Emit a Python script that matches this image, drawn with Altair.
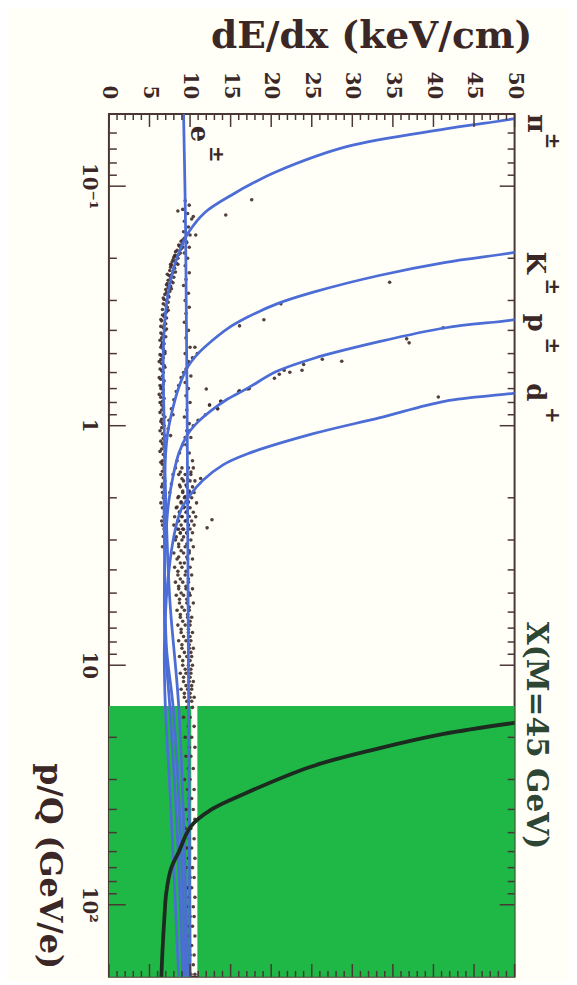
import altair as alt
import pandas as pd

W, H = 410, 872
FRAME = "#4a3632"
TXT = "#3b2826"
BLUE = "#4d6dd6"
GREEN = "#1fb847"
FONT = "DejaVu Serif"

# ---- curves (p/Q in GeV/e, dE/dx in keV/cm) ----
pi_p = [0.051, 0.0525, 0.0577, 0.0684, 0.0868, 0.0973, 0.107, 0.129, 0.157, 0.184, 0.223, 0.277, 0.345, 0.477, 0.652, 0.953, 2.0, 5.3, 14.8, 57, 200]
pi_dedx = [51.0, 49.6, 41.5, 29.3, 20.7, 17.7, 15.5, 11.8, 9.76, 8.78, 7.93, 7.32, 6.95, 6.71, 6.71, 6.8, 7.0, 7.5, 8.6, 9.3, 9.7]
k_p = [0.18, 0.189, 0.208, 0.236, 0.277, 0.310, 0.352, 0.393, 0.446, 0.500, 0.565, 0.684, 0.867, 1.10, 1.69, 3.28, 8.5, 14.8, 57, 200]
k_dedx = [53.0, 50.0, 41.5, 33.3, 25.2, 20.7, 17.1, 14.63, 12.56, 10.98, 9.76, 8.66, 7.80, 7.20, 6.83, 6.85, 7.1, 7.9, 8.9, 9.4]
pr_p = [0.345, 0.361, 0.390, 0.446, 0.524, 0.593, 0.697, 0.774, 0.867, 0.964, 1.08, 1.29, 1.61, 2.14, 3.28, 5.28, 8.5, 14.8, 57, 200]
pr_dedx = [53.0, 50.0, 41.5, 33.3, 25.2, 20.7, 17.1, 14.63, 12.56, 10.98, 9.76, 8.66, 7.93, 7.32, 6.95, 6.83, 6.95, 7.5, 8.5, 9.1]
d_p = [0.70, 0.731, 0.789, 0.927, 1.08, 1.31, 1.46, 1.69, 1.95, 2.24, 2.72, 3.61, 5.28, 8.5, 14.8, 35.4, 200]
d_dedx = [53.0, 50.0, 41.5, 33.3, 25.2, 17.1, 14.02, 11.59, 10.0, 8.90, 8.17, 7.56, 7.07, 6.83, 6.95, 7.56, 8.6]
e_p = [0.05, 0.15, 1.0, 10.0, 200]
e_dedx = [9.2, 9.45, 9.65, 9.8, 10.0]
x_p = [16.9, 17.4, 19.4, 22.4, 26.6, 34.4, 40.1, 47.1, 60.9, 70.2, 89.1, 114, 158, 202]
x_dedx = [53.0, 50.0, 41.1, 32.9, 24.8, 16.7, 12.6, 10.1, 8.54, 7.68, 7.07, 6.83, 6.59, 6.46]

# ---- measured tracks (p, dE/dx) ----
pion_band = [[0.165, 9.3], [0.17, 8.9], [0.172, 9.6], [0.175, 9.0], [0.178, 8.7], [0.18, 9.1], [0.185, 8.4], [0.19, 8.8],
             [0.195, 8.1], [0.2, 8.5], [0.203, 7.9], [0.205, 8.2], [0.21, 8.3], [0.214, 7.7], [0.22, 8.1], [0.225, 7.5],
             [0.23, 7.9], [0.235, 7.7], [0.236, 7.4], [0.24, 8.0], [0.247, 7.3], [0.25, 7.7], [0.258, 7.1], [0.262, 7.6],
             [0.265, 7.3], [0.27, 7.0], [0.275, 7.5], [0.283, 6.9], [0.29, 7.4], [0.297, 6.8], [0.3, 7.1], [0.305, 7.3],
             [0.31, 6.7], [0.32, 7.2], [0.327, 6.6], [0.335, 7.1], [0.34, 6.9], [0.345, 6.6], [0.355, 7.1], [0.365, 6.5],
             [0.375, 7.0], [0.385, 6.4], [0.39, 6.7], [0.4, 6.9], [0.41, 6.4], [0.425, 7.0], [0.44, 6.3], [0.45, 6.6],
             [0.455, 6.8], [0.47, 6.4], [0.49, 6.9], [0.505, 6.3], [0.51, 6.5], [0.52, 6.7], [0.54, 6.2], [0.56, 6.8],
             [0.58, 6.3], [0.59, 6.5], [0.6, 6.7], [0.63, 6.2], [0.65, 6.8], [0.68, 6.3], [0.69, 6.5], [0.71, 6.7],
             [0.74, 6.2], [0.77, 6.8], [0.8, 6.3], [0.82, 6.5], [0.84, 6.7], [0.88, 6.3], [0.92, 6.9], [0.96, 6.4],
             [0.98, 6.6], [1.0, 6.8], [1.05, 6.3], [1.1, 6.9], [1.16, 6.4], [1.19, 6.6], [1.22, 6.8], [1.28, 6.3],
             [1.35, 6.9], [1.42, 6.4], [1.45, 6.6], [1.5, 6.8], [1.6, 6.4], [1.7, 6.9], [1.8, 6.5], [1.95, 6.8],
             [2.1, 6.4], [2.3, 6.9], [2.5, 6.5], [2.7, 6.8]]
pion_band2 = [[0.168, 9.1], [0.176, 8.6], [0.183, 8.9], [0.188, 8.2], [0.193, 8.6], [0.198, 8.0], [0.207, 7.8],
              [0.212, 8.5], [0.218, 7.6], [0.228, 8.2], [0.233, 7.2], [0.243, 7.6], [0.253, 7.9], [0.255, 7.2],
              [0.268, 7.7], [0.278, 7.1], [0.287, 7.3], [0.293, 6.7], [0.315, 7.0], [0.33, 7.3], [0.35, 6.8],
              [0.36, 6.4], [0.38, 6.8], [0.395, 7.1], [0.415, 6.6], [0.43, 6.5], [0.46, 6.5], [0.48, 6.7],
              [0.5, 6.9], [0.53, 6.4], [0.55, 6.5], [0.57, 6.9], [0.62, 6.6], [0.64, 6.4], [0.67, 6.7],
              [0.7, 6.4], [0.73, 6.6], [0.76, 6.4], [0.79, 6.6], [0.86, 6.5], [0.9, 6.7], [0.94, 6.5],
              [1.02, 6.5], [1.08, 6.6], [1.13, 6.7], [1.25, 6.5], [1.32, 6.7], [1.4, 6.6], [1.55, 6.6],
              [1.65, 6.7], [1.75, 6.6], [1.9, 6.6], [2.0, 6.7], [2.2, 6.6], [2.4, 6.7], [2.6, 6.6],
              [2.9, 6.7], [3.2, 6.6]]
electron_band = [[0.115, 9.4], [0.12, 9.9], [0.125, 9.1], [0.13, 9.7], [0.137, 10.2], [0.14, 9.3], [0.148, 9.8],
                 [0.155, 9.2], [0.16, 10.0], [0.17, 9.5], [0.18, 9.9], [0.19, 9.3], [0.2, 9.7], [0.215, 9.4],
                 [0.23, 9.9], [0.245, 9.5], [0.26, 9.2], [0.28, 9.8], [0.3, 9.4], [0.32, 9.9], [0.34, 9.5],
                 [0.37, 9.3], [0.4, 9.8], [0.43, 9.5], [0.47, 10.0], [0.5, 9.4], [0.54, 9.8], [0.58, 9.5],
                 [0.62, 10.1], [0.66, 9.4], [0.7, 9.8], [0.75, 9.5], [0.8, 10.0], [0.86, 9.6], [0.92, 9.3],
                 [0.98, 9.9], [1.05, 9.6], [1.12, 10.1], [1.2, 9.5], [1.3, 9.9], [1.4, 10.3]]
kaon_band = [[0.47, 10.6], [0.5, 10.9], [0.52, 10.3], [0.55, 9.9], [0.6, 9.2], [0.63, 8.9], [0.68, 8.6], [0.72, 8.3],
             [0.78, 8.0], [0.85, 7.7], [0.9, 7.9], [0.95, 7.4], [1.03, 7.3], [1.1, 7.6]]
proton_band = [[0.70, 17.3], [0.72, 16.0], [0.79, 13.8], [0.82, 12.4], [0.85, 13.4], [0.9, 11.9], [0.95, 11.0],
               [1.0, 10.4], [1.05, 9.9], [1.12, 9.4], [1.2, 9.1], [1.3, 8.7], [1.4, 8.4], [1.5, 8.2], [1.6, 7.9],
               [1.75, 7.7], [1.9, 7.5]]
mid_p = [1.5, 1.6, 1.7, 1.8, 1.9, 2.0, 2.1, 2.2, 2.3, 2.4, 2.5, 2.6, 2.7, 2.8, 3.0, 3.2, 3.4, 3.6, 3.9, 4.2,
         4.5, 4.8, 5.1, 5.5, 5.9, 6.3, 6.8, 7.3, 7.9, 8.5, 9.2, 10.0, 10.8, 11.7, 12.6, 13.6]
mid_dedx = [[9.0, 9.8, 10.4], [8.6, 9.4, 10.1], [9.2, 10.0, 10.6], [8.8, 9.6, 10.3], [9.1, 9.9, 10.5],
            [8.5, 9.3, 10.2], [8.9, 9.7, 10.8], [8.3, 9.2, 10.0], [8.7, 9.5, 10.4], [8.1, 9.0, 10.7],
            [8.6, 9.4, 10.2], [8.0, 9.8, 10.5], [8.4, 9.1, 10.0], [8.8, 9.6, 10.3], [8.2, 9.0, 10.1],
            [8.6, 9.4, 10.4], [8.0, 9.2, 9.9], [8.4, 9.7, 10.3], [8.1, 9.0, 10.0], [8.5, 9.4, 10.2],
            [8.2, 9.1, 9.8], [8.6, 9.5, 10.3], [8.3, 9.2, 10.0], [8.7, 9.6, 10.4], [8.4, 9.3, 9.9],
            [8.8, 9.7, 10.2], [8.5, 9.4, 10.0], [8.9, 9.8, 10.3], [8.6, 9.5, 10.1], [9.0, 9.9, 10.4],
            [8.7, 9.6, 10.2], [9.1, 9.8, 10.3], [8.8, 9.5, 10.1], [9.2, 9.9, 10.4], [8.9, 9.7, 10.2],
            [9.3, 10.0, 10.5]]
mid_dedx2 = [[8.8, 10.1], [9.0, 9.7], [8.7, 9.5], [9.1, 9.9], [8.6, 9.4], [8.9, 9.8], [8.4, 9.3], [8.7, 9.6],
             [9.0, 9.9], [8.5, 9.5], [8.9, 9.8], [8.6, 9.2], [8.8, 9.6], [8.3, 9.2], [8.6, 9.6], [8.9, 9.9],
             [8.6, 9.6], [8.8, 9.3], [8.5, 9.5], [8.8, 9.8], [8.6, 9.5], [8.9, 9.9], [8.7, 9.6], [9.0, 9.9],
             [8.8, 9.7], [9.1, 10.0], [8.9, 9.8], [9.2, 10.0], [9.0, 9.9], [9.3, 10.1], [9.1, 10.0], [9.4, 10.1],
             [9.2, 10.0], [9.5, 10.2], [9.3, 10.0], [9.6, 10.2]]
high_p = [15, 16.5, 18, 20, 22, 24, 27, 30, 33, 36, 40, 44, 48, 53, 58, 64, 70, 77, 85, 93, 102, 112,
          123, 135, 148, 162, 178, 195]
high_dedx = [[9.6, 10.3], [9.2, 10.0], [9.8, 10.5], [9.4, 10.2], [9.9, 10.6], [9.5, 10.1], [9.8, 10.4],
             [9.3, 10.0], [9.7, 10.5], [9.9, 10.2], [9.5, 10.4], [9.8, 10.6], [9.4, 10.1], [9.9, 10.5],
             [9.6, 10.2], [9.8, 10.6], [9.5, 10.3], [10.0, 10.5], [9.7, 10.2], [9.9, 10.6], [9.6, 10.4],
             [10.0, 10.5], [9.7, 10.3], [9.9, 10.6], [9.6, 10.2], [10.0, 10.5], [9.8, 10.4], [10.1, 10.6]]
outliers = [[0.114, 17.6], [0.132, 14.4], [0.252, 34.6], [0.361, 19.1], [0.310, 21.2], [0.383, 16.1],
            [0.634, 20.4], [0.610, 21.0], [0.587, 21.6], [0.598, 22.3], [0.587, 23.8], [0.555, 24.0],
            [0.528, 26.3], [0.538, 28.7], [0.434, 36.7], [0.451, 37.0], [0.759, 40.6], [0.390, 41.2],
            [2.47, 12.7], [2.67, 12.1], [1.66, 11.3], [0.703, 12.0], [0.82, 12.4], [0.79, 13.8],
            [0.85, 13.4], [0.703, 17.1], [0.715, 16.1], [0.127, 8.5], [0.134, 10.4], [0.160, 10.7],
            [0.195, 8.2], [0.212, 7.6]]

# ---- signal region (X search), dE/dx gap, axis ticks ----
green_x = [0.0, 10.9]
green_x2 = [10.15, 50.0]
green_p_low = 14.8
x_ticks_major = [0, 5, 10, 15, 20, 25, 30, 35, 40, 45, 50]
x_tick_labels = ["0", "5", "10", "15", "20", "25", "30", "35", "40", "45", "50"]
x_ticks_minor = [v for v in range(0, 51) if v % 5 != 0]
p_ticks_major = [0.1, 1, 10, 100]
p_tick_labels = ["10⁻¹", "1", "10", "10²"]
p_ticks_minor = [0.06, 0.07, 0.08, 0.09, 0.2, 0.3, 0.4, 0.5, 0.6, 0.7, 0.8, 0.9,
                 2, 3, 4, 5, 6, 7, 8, 9, 20, 30, 40, 50, 60, 70, 80, 90]

# ---- labels (text, dE/dx anchor, p anchor, font size, colour) ----
labels = [
    ["π", 51.6, 0.050, 26, TXT], ["±", 53.9, 0.0599, 20, TXT],
    ["K", 51.5, 0.1875, 26, TXT], ["±", 53.9, 0.2427, 20, TXT],
    ["p", 51.7, 0.341, 26, TXT], ["±", 53.9, 0.428, 20, TXT],
    ["d", 51.5, 0.665, 26, TXT], ["+", 53.9, 0.835, 20, TXT],
    ["e", 10.1, 0.056, 26, TXT], ["±", 12.4, 0.068, 20, TXT],
    ["X(M=45 GeV)", 51.5, 6.58, 30, "#2d4533"],
]

# ---------------------------------------------------------------
xs = alt.Scale(domain=[0, 50], nice=False, zero=False)
ys = alt.Scale(type="log", domain=[0.05, 200], reverse=True, nice=False)
XN = lambda f: alt.X(f, scale=xs, axis=None)
YN = lambda f: alt.Y(f, scale=ys, axis=None)

def curve_df(name, ps, ds):
    return pd.DataFrame({"curve": name, "p": ps, "dedx": ds, "i": range(len(ps))})

blue_df = pd.concat([curve_df("pi", pi_p, pi_dedx), curve_df("K", k_p, k_dedx),
                     curve_df("p", pr_p, pr_dedx), curve_df("d", d_p, d_dedx),
                     curve_df("e", e_p, e_dedx)])
x_df = curve_df("X", x_p, x_dedx)

pts = pion_band + pion_band2 + electron_band + kaon_band + proton_band + outliers
for pv, row in zip(mid_p, mid_dedx):
    pts += [[pv, v] for v in row]
for pv, row in zip(mid_p, mid_dedx2):
    pts += [[pv * 1.04, v] for v in row]
for pv, row in zip(high_p, high_dedx):
    pts += [[pv, v] for v in row]
pts_df = pd.DataFrame(pts, columns=["p", "dedx"])

green_df = pd.DataFrame({"x": green_x, "x2": green_x2, "y": [green_p_low] * 2, "y2": [200.0] * 2})
lab_df = pd.DataFrame(labels, columns=["t", "dedx", "p", "fs", "c"])

green = alt.Chart(green_df).mark_rect(color=GREEN).encode(
    x=XN("x:Q"), x2="x2:Q", y=YN("y:Q"), y2="y2:Q")

dots = alt.Chart(pts_df).mark_circle(size=13, color="#3f2b2a", opacity=0.9, clip=True).encode(
    x=XN("dedx:Q"), y=YN("p:Q"))

blue = alt.Chart(blue_df).mark_line(color=BLUE, strokeWidth=2.8, interpolate="catmull-rom", clip=True).encode(
    x=XN("dedx:Q"), y=YN("p:Q"), detail="curve:N", order="i:Q")

xline = alt.Chart(x_df).mark_line(color="#1c2a1f", strokeWidth=3.8, interpolate="catmull-rom", clip=True).encode(
    x=XN("dedx:Q"), y=YN("p:Q"), order="i:Q")

def xticks(vals, y0, y1):
    return alt.Chart(pd.DataFrame({"v": vals})).mark_rule(color=FRAME, strokeWidth=1.5).encode(
        x=XN("v:Q"), y=alt.value(y0), y2=alt.value(y1))

def yticks(vals, x0, x1):
    return alt.Chart(pd.DataFrame({"v": vals})).mark_rule(color=FRAME, strokeWidth=1.5).encode(
        y=YN("v:Q"), x=alt.value(x0), x2=alt.value(x1))

ticks = [xticks(x_ticks_major, 0, 13), xticks(x_ticks_minor, 0, 6),
         xticks(x_ticks_major, H, H - 13), xticks(x_ticks_minor, H, H - 6),
         yticks(p_ticks_major, 0, 17), yticks(p_ticks_minor, 0, 8),
         yticks(p_ticks_major, W, W - 15), yticks(p_ticks_minor, W, W - 7)]

x_lab = alt.Chart(pd.DataFrame({"v": x_ticks_major, "t": x_tick_labels})).mark_text(
    angle=90, align="right", baseline="middle", font=FONT, fontWeight="bold", fontSize=20, color=TXT
).encode(x=XN("v:Q"), y=alt.value(-15), text="t:N")

y_lab = alt.Chart(pd.DataFrame({"v": p_ticks_major, "t": p_tick_labels})).mark_text(
    angle=90, align="center", baseline="top", font=FONT, fontWeight="bold", fontSize=20, color=TXT
).encode(y=YN("v:Q"), x=alt.value(-10), text="t:N")

x_title = alt.Chart(pd.DataFrame({"t": ["dE/dx (keV/cm)"]})).mark_text(
    align="right", baseline="alphabetic", font=FONT, fontWeight="bold", fontSize=38, color=TXT
).encode(x=alt.value(428), y=alt.value(-67), text="t:N")

y_title = alt.Chart(pd.DataFrame({"t": ["p/Q (GeV/e)"]})).mark_text(
    angle=90, align="right", baseline="alphabetic", font=FONT, fontWeight="bold", fontSize=32, color=TXT
).encode(x=alt.value(-70), y=alt.value(H - 8), text="t:N")

texts = alt.Chart(lab_df).mark_text(angle=90, align="left", baseline="alphabetic", font=FONT,
                                    fontWeight="bold").encode(
    x=XN("dedx:Q"), y=YN("p:Q"),
    text="t:N", size=alt.Size("fs:Q", scale=None, legend=None), color=alt.Color("c:N", scale=None, legend=None))

chart = alt.layer(green, dots, blue, xline, *ticks, x_lab, y_lab, x_title, y_title, texts).properties(
    width=W, height=H,
    padding={"left": 102, "top": 102, "right": 55, "bottom": 0},
    autosize=alt.AutoSizeParams(type="none"),
    background="#fffff8",
).configure_view(stroke=FRAME, strokeWidth=2)

chart.save("out.html", embed_options={"renderer": "svg", "actions": False})
